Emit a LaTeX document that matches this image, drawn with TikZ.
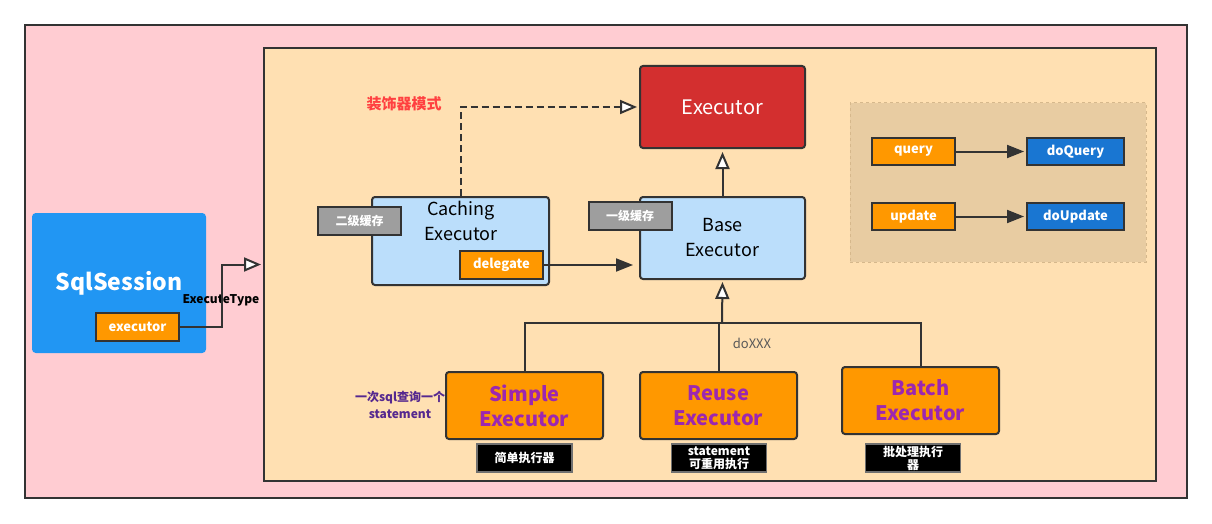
\documentclass[tikz,border=0pt]{standalone}
\usepackage{fontspec}
\setmainfont{Noto Sans CJK SC}
\usetikzlibrary{arrows.meta}
\definecolor{pinkbg}{HTML}{FFCCD2}
\definecolor{creambg}{HTML}{FFE0B2}
\definecolor{lineclr}{HTML}{333333}
\definecolor{lightblue}{HTML}{BBDEFB}
\definecolor{sqlblue}{HTML}{2196F3}
\definecolor{darkblue}{HTML}{1976D2}
\definecolor{execred}{HTML}{D32F2F}
\definecolor{orangebox}{HTML}{FF9800}
\definecolor{groupbg}{HTML}{E8CCA2}
\definecolor{groupline}{HTML}{D6B88C}
\definecolor{purpletxt}{HTML}{9C27B0}
\definecolor{notetxt}{HTML}{55288F}
\definecolor{cachegray}{HTML}{9E9E9E}
\begin{document}
\begin{tikzpicture}[x=1pt,y=-1pt,line width=2pt,
    box/.style={draw=lineclr,rounded corners=3pt,inner sep=0pt,align=center},
    tag/.style={draw=lineclr,fill=orangebox,inner sep=0pt,minimum width=83pt,minimum height=28pt,
        text=white,font=\fontsize{13}{15}\selectfont\bfseries},
    cache/.style={tag,fill=cachegray,font=\fontsize{12}{14}\selectfont\bfseries},
    method/.style={tag,minimum height=27pt},
    domethod/.style={method,fill=darkblue,minimum width=97pt},
    sub/.style={box,fill=orangebox,minimum width=157pt,minimum height=67pt,text=purpletxt,
        font=\fontsize{20}{25}\selectfont\bfseries},
    note/.style={draw=lineclr!70,line width=1.5pt,fill=black,inner sep=0pt,minimum width=95pt,minimum height=28pt,
        text=white,align=center,font=\fontsize{12}{13}\selectfont\bfseries},
    link/.style={draw=lineclr},
    hollow/.style={-{Triangle[open,fill=white,length=17pt,width=14pt,line width=2pt]}},
    filled/.style={-{Triangle[length=17pt,width=13pt]}}]
\useasboundingbox (0,0) rectangle (1212,524);
% frames
\node[draw=lineclr,fill=pinkbg,minimum width=1162pt,minimum height=473pt,inner sep=0pt] (outer) at (606,261.5) {};
\node[draw=lineclr,fill=creambg,minimum width=892pt,minimum height=433pt,inner sep=0pt] (frame) at (710,264.5) {};
% session
\node[box,draw=sqlblue,fill=sqlblue,minimum width=172pt,minimum height=138pt] (sql) at (119,283) {};
\node[text=white,font=\fontsize{23}{26}\selectfont\bfseries] (sqlname) at (119,283) {SqlSession};
\node[tag] (exec) at (137.5,327) {executor};
% executors
\node[box,fill=execred,minimum width=165pt,minimum height=82pt,text=white,
    font=\fontsize{20}{24}\selectfont] (execut) at (722.5,107) {Executor};
\node[box,fill=lightblue,minimum width=165pt,minimum height=82pt,
    font=\fontsize{18}{25}\selectfont] (base) at (722.5,238) {Base\\Executor};
\node[cache] (lvone) at (630,216) {一级缓存};
\node[box,fill=lightblue,minimum width=177pt,minimum height=88pt] (caching) at (460.5,241) {};
\node[font=\fontsize{18}{25}\selectfont,align=center,anchor=north] (cachname) at (461,197) {Caching\\Executor};
\node[cache] (lvtwo) at (359.5,221) {二级缓存};
\node[tag] (dele) at (501.5,265) {delegate};
\node[sub] (simple) at (524.5,405.5) {Simple\\Executor};
\node[sub] (reuse) at (718.5,405.5) {Reuse\\Executor};
\node[sub] (batch) at (920.5,400.5) {Batch\\Executor};
\node[note] (simplenote) at (524.5,458) {简单执行器};
\node[note] (reusenote) at (719,458) {statement\\可重用执行};
\node[note] (batchnote) at (913,458) {批处理执行\\器};
% methods
\node[draw=groupline,dashed,line width=1pt,fill=groupbg,minimum width=296pt,minimum height=159pt] (group) at (998,182.5) {};
\node[method] (query) at (913.5,151.5) {query};
\node[domethod] (doquery) at (1075.5,151.5) {doQuery};
\node[method] (update) at (913.5,216.5) {update};
\node[domethod] (doupdate) at (1075.5,216.5) {doUpdate};
% texts
\node[font=\fontsize{12}{14}\selectfont\bfseries] (exectype) at (221,300) {ExecuteType};
\node[text=red!75!white,font=\fontsize{15}{18}\selectfont\bfseries] (pattern) at (404,104) {装饰器模式};
\node[text=black!65,font=\fontsize{13}{15}\selectfont] (doxxx) at (752,343) {doXXX};
\node[text=notetxt,align=center,font=\fontsize{12}{17}\selectfont\bfseries] (oncenote) at (400,405) {一次sql查询一个\\statement};
% connectors
\coordinate (merge) at (722,323);
\draw[link,hollow] (exec.east) -- ++(42,0) |- ([xshift=-2pt]frame.west);
\draw[link,dash pattern=on 7pt off 4pt,hollow] (caching.north) |- ([xshift=-2pt]execut.west);
\draw[link,filled,shorten >=6pt] (dele.east) -- (dele.east -| base.west);
\draw[link,hollow,shorten >=3pt] (base.north) -- (execut.south);
\draw[link,hollow,shorten >=2pt] (merge) -- (base.south);
\draw[link] (simple.north) |- (merge);
\draw[link] (batch.north) |- (merge);
\draw[link] (reuse.north) -- (reuse.north |- merge);
\foreach \a/\b in {query/doquery,update/doupdate}
    \draw[link,filled,shorten >=2pt] (\a) -- (\b);
\end{tikzpicture}
\end{document}
